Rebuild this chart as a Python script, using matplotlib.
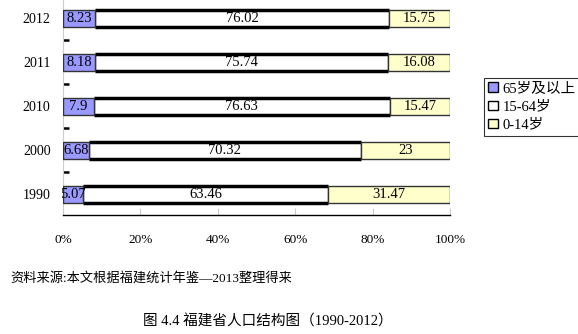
import numpy as np
import matplotlib.pyplot as plt

plt.rcParams['font.family'] = ['Liberation Serif', 'Noto Sans CJK SC', 'DejaVu Sans']

years = ['1990', '2000', '2010', '2011', '2012']
old = [5.07, 6.68, 7.9, 8.18, 8.23]
mid = [63.46, 70.32, 76.63, 75.74, 76.02]
young = [31.47, 23, 15.47, 16.08, 15.75]
series_names = ['65岁及以上', '15-64岁', '0-14岁']

fig = plt.figure(figsize=(5.78, 3.34), dpi=100)
ax = fig.add_axes([63 / 578, 1 - 215 / 334, 387 / 578, 215 / 334])

y = np.arange(len(years))
h = 0.4
old_a = np.array(old)
mid_a = np.array(mid)
young_a = np.array(young)

b2 = ax.barh(y, mid_a, left=old_a, height=h, color='white', edgecolor='#333333', linewidth=1, zorder=2)
# thick top/bottom borders on the middle segment
ax.hlines(y + h / 2, old_a, old_a + mid_a, color='black', linewidth=2.5, zorder=2.5)
ax.hlines(y - h / 2, old_a, old_a + mid_a, color='black', linewidth=2.5, zorder=2.5)
b1 = ax.barh(y, old_a, height=h, color='#9999FF', edgecolor='#333333', linewidth=1, zorder=3)
b3 = ax.barh(y, young_a, left=old_a + mid_a, height=h, color='#FFFFCC', edgecolor='#333333', linewidth=1, zorder=3)

def fmt(v):
    return ('%g' % v)

for i in range(len(years)):
    ax.text(old_a[i] / 2, y[i], fmt(old_a[i]), ha='center', va='center', fontsize=10.5, zorder=5)
    ax.text(old_a[i] + mid_a[i] / 2, y[i], fmt(mid_a[i]), ha='center', va='center', fontsize=10.5, zorder=5)
    ax.text(old_a[i] + mid_a[i] + young_a[i] / 2, y[i], fmt(young_a[i]), ha='center', va='center', fontsize=10.5, zorder=5)

ax.set_xlim(0, 100)
ax.set_ylim(-0.466, 4.42)
ax.set_xticks([0, 20, 40, 60, 80, 100])
ax.set_xticklabels(['0%', '20%', '40%', '60%', '80%', '100%'], fontsize=9.5)
ax.set_yticks(y)
ax.set_yticklabels(years, fontsize=10)
ax.set_yticks([0.5, 1.5, 2.5, 3.5], minor=True)
ax.tick_params(axis='y', which='major', length=0, pad=9)
ax.tick_params(axis='y', which='minor', direction='in', length=4, width=1.8, color='black')
ax.tick_params(axis='x', which='major', direction='in', length=5, color='#cccccc', pad=14)

for s in ['top', 'right']:
    ax.spines[s].set_visible(False)
ax.spines['left'].set_color('#cccccc')
ax.spines['left'].set_linewidth(0.8)
ax.spines['bottom'].set_color('black')
ax.spines['bottom'].set_linewidth(1)

leg = fig.legend([b1, b2, b3], series_names, loc='upper left', bbox_to_anchor=(484 / 578, 1 - 78 / 334),
                 fontsize=10.5, frameon=True, fancybox=False, handlelength=0.65, handleheight=0.65,
                 handletextpad=0.3, borderpad=0.3, labelspacing=0.35, borderaxespad=0)
leg.get_frame().set_edgecolor('black')
leg.get_frame().set_linewidth(0.8)
for hnd in leg.legend_handles:
    hnd.set_linewidth(1)
    hnd.set_edgecolor('black')

fig.text(10 / 578, 1 - 278 / 334, '资料来源:本文根据福建统计年鉴—2013整理得来', fontsize=9.5, va='center', ha='left')
fig.text(268 / 578, 1 - 322 / 334, '图 4.4 福建省人口结构图（1990-2012）', fontsize=10.5, va='center', ha='center')

fig.savefig('out.png', dpi=100)
